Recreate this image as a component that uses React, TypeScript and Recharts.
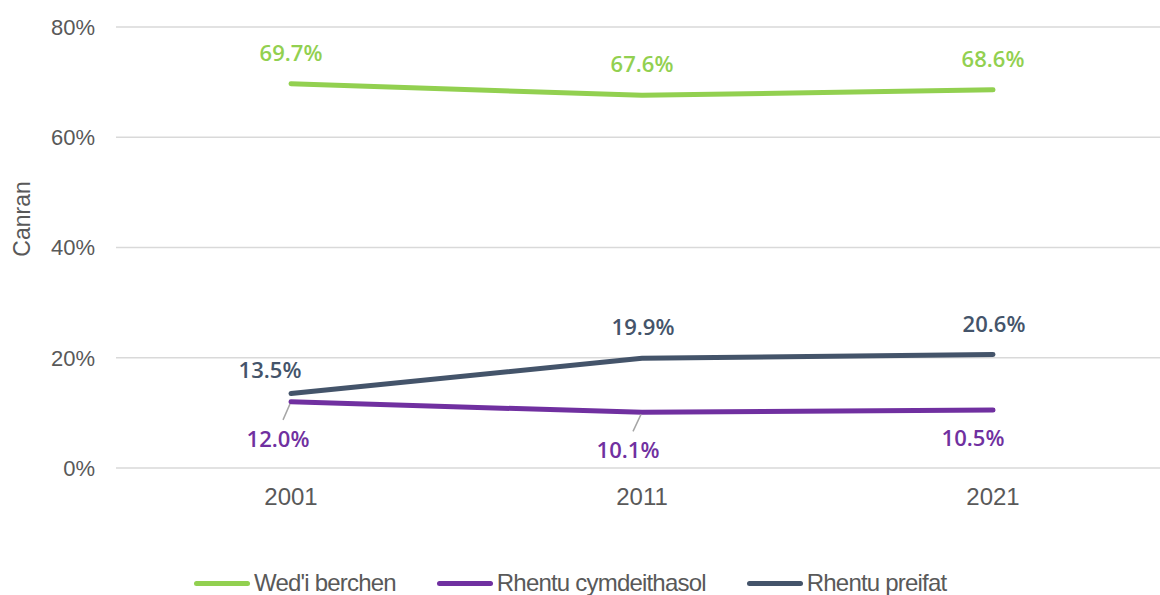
import React from 'react';
import { LineChart, Line, XAxis, YAxis, CartesianGrid, Legend, LabelList } from 'recharts';

const years = ['2001', '2011', '2021'];
const ownerOccupied = [69.7, 67.6, 68.6];
const socialRent = [12.0, 10.1, 10.5];
const privateRent = [13.5, 19.9, 20.6];
const yTicks = [0, 20, 40, 60, 80];

const seriesNames = ["Wed'i berchen", 'Rhentu cymdeithasol', 'Rhentu preifat'];
const seriesKeys = ['owner', 'social', 'private'];
const seriesColors = ['#92D050', '#7030A0', '#44546A'];

// label placement (styling config): offsets of label centre from the point
const labelOffsets: Record<string, { dx: number; dy: number; leader?: boolean }[]> = {
  owner: [{ dx: 0, dy: -32 }, { dx: 0, dy: -32 }, { dx: 0, dy: -32 }],
  social: [{ dx: -13, dy: 36, leader: true }, { dx: -14, dy: 37, leader: true }, { dx: -20, dy: 27 }],
  private: [{ dx: -21, dy: -25 }, { dx: 1, dy: -32 }, { dx: 1, dy: -31 }],
};

const data = years.map((y, i) => ({
  year: y,
  owner: ownerOccupied[i],
  social: socialRent[i],
  private: privateRent[i],
}));

const FONT = '"Liberation Sans", Arial, sans-serif';

const makeLabel = (key: string, color: string) => (props: any) => {
  const { x, y, value, index } = props;
  const off = labelOffsets[key][index];
  const cx = x + off.dx;
  const cy = y + off.dy;
  return (
    <g>
      {off.leader && (
        <line x1={x - 1} y1={y + 2} x2={cx + 5} y2={cy - 18} stroke="#A6A6A6" strokeWidth={1.5} />
      )}
      <text
        x={cx}
        y={cy}
        textAnchor="middle"
        dominantBaseline="central"
        fill={color}
        fontFamily='"Open Sans", sans-serif'
        fontWeight={600}
        fontSize={22}
      >
        {Number(value).toFixed(1)}%
      </text>
    </g>
  );
};

const LegendContent = () => (
  <div style={{ display: 'flex', alignItems: 'center', paddingLeft: 194, fontFamily: FONT }}>
    {seriesNames.map((n, i) => (
      <div key={n} style={{ display: 'flex', alignItems: 'center', marginRight: 41 }}>
        <div style={{ width: 56, height: 5, borderRadius: 3, background: seriesColors[i] }} />
        <span style={{ marginLeft: 4, fontSize: 24, color: '#595959', letterSpacing: -0.8, lineHeight: '26px' }}>{n}</span>
      </div>
    ))}
  </div>
);

export default function App() {
  return (
    <div style={{ position: 'fixed', left: 0, top: 0, width: 1160, height: 595, overflow: 'hidden', background: '#fff' }}>
      <LineChart width={1168} height={595} data={data} margin={{ top: 27, right: 0, left: 0, bottom: 97 }}>
        <CartesianGrid vertical={false} stroke="#D9D9D9" strokeWidth={1.5} />
        <XAxis
          dataKey="year"
          axisLine={false}
          tickLine={false}
          tickMargin={14}
          padding={{ left: 175, right: 175 }}
          tick={{ fill: '#595959', fontSize: 24, fontFamily: FONT }}
        />
        <YAxis
          width={116}
          domain={[0, 80]}
          ticks={yTicks}
          axisLine={false}
          tickLine={false}
          tickMargin={15}
          tickFormatter={(v: number) => `${v}%`}
          tick={{ fill: '#595959', fontSize: 22, fontFamily: FONT }}
          label={{
            content: (p: any) => (
              <text
                x={22}
                y={219}
                transform="rotate(-90 22 219)"
                textAnchor="middle"
                dominantBaseline="central"
                fill="#595959"
                fontSize={23}
                fontFamily={FONT}
              >
                Canran
              </text>
            ),
          }}
        />
        <Legend
          verticalAlign="middle"
          align="center"
          layout="horizontal"
          content={() => <LegendContent />}
          wrapperStyle={{ top: 570, left: 0, right: 'auto', width: 1160, height: 26 }}
        />
        {seriesKeys.map((k, i) => (
          <Line
            key={k}
            type="linear"
            dataKey={k}
            name={seriesNames[i]}
            stroke={seriesColors[i]}
            strokeWidth={5}
            strokeLinecap="round"
            dot={false}
            activeDot={false}
            isAnimationActive={false}
          >
            <LabelList dataKey={k} content={makeLabel(k, seriesColors[i])} />
          </Line>
        ))}
      </LineChart>
    </div>
  );
}
